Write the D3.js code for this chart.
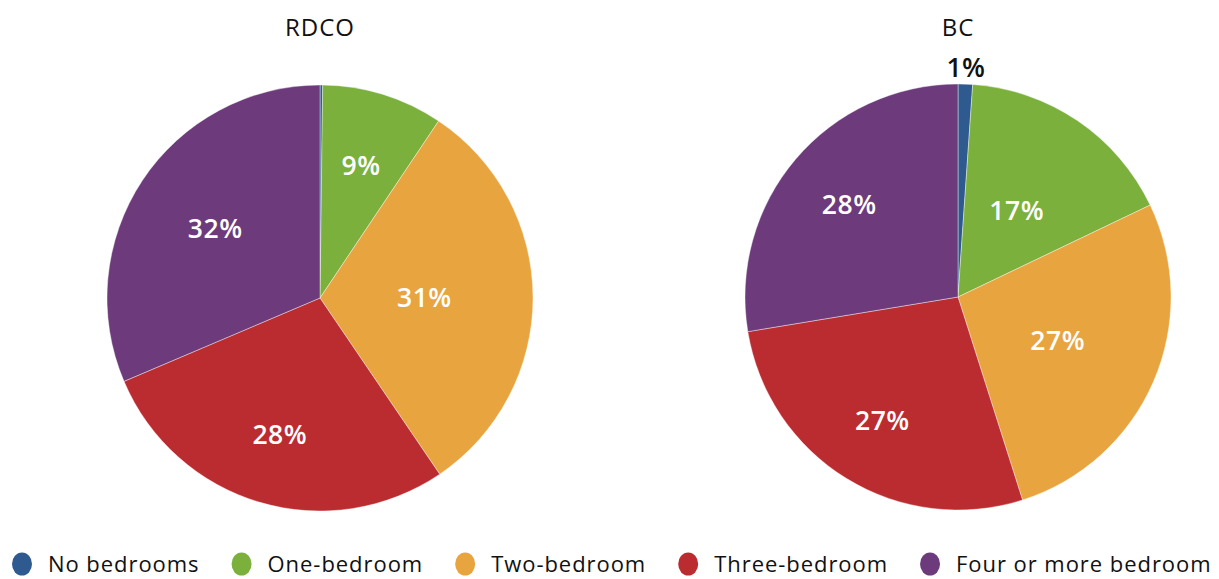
<!DOCTYPE html>
<html><head><meta charset="utf-8">
<script src="https://cdn.jsdelivr.net/npm/d3@7"></script>
<style>
html,body{margin:0;padding:0;background:#fff;}
svg{display:block;font-family:"Open Sans",sans-serif;}
</style></head>
<body><svg id="c" width="1219" height="579"></svg>
<script>
const categories = ["No bedrooms","One-bedroom","Two-bedroom","Three-bedroom","Four or more bedroom"];
const colors = ["#2E5A8F","#7BB03C","#E8A43E","#BB2C31","#6D3B7B"];
const regions = ["RDCO","BC"];
const rdcoValues = [0.2, 9.2, 31.1, 28.1, 31.4];
const bcValues = [1.1, 16.8, 27.2, 27.3, 27.6];
const rdcoLabels = ["", "9%", "31%", "28%", "32%"];
const bcLabels = ["1%", "17%", "27%", "27%", "28%"];

const svg = d3.select("#c");
const pies = [
  {name: regions[0], values: rdcoValues, labels: rdcoLabels, cx: 320, cy: 298, labelR: [0, 0.65, 0.49, 0.67, 0.59], outside:[false,false,false,false,false]},
  {name: regions[1], values: bcValues, labels: bcLabels, cx: 958, cy: 297, labelR: [1.08, 0.49, 0.51, 0.68, 0.67], outside:[true,false,false,false,false]}
];
const R = 213;
const pie = d3.pie().sort(null).value(d => d);
const arc = d3.arc().innerRadius(0).outerRadius(R);

pies.forEach(p => {
  const g = svg.append("g").attr("transform", `translate(${p.cx},${p.cy})`);
  const arcs = pie(p.values);
  g.selectAll("path").data(arcs).join("path")
    .attr("d", arc)
    .attr("fill", (d,i) => colors[i])
    .attr("stroke", "#fff").attr("stroke-width", 0.4);
  g.selectAll("text.lbl").data(arcs).join("text")
    .attr("class","lbl")
    .attr("transform", (d,i) => {
      const a = (d.startAngle + d.endAngle)/2;
      const r = R * p.labelR[i];
      return `translate(${Math.sin(a)*r},${-Math.cos(a)*r})`;
    })
    .attr("text-anchor","middle").attr("dy","0.36em")
    .attr("fill", (d,i) => p.outside[i] ? "#111" : "#fff")
    .attr("font-size", 26.5).attr("font-weight", 600).attr("letter-spacing", 0.5)
    .text((d,i) => p.labels[i]);
  svg.append("text").attr("x", p.cx).attr("y", 36)
    .attr("text-anchor","middle").attr("font-size", 24).attr("letter-spacing", 1).attr("fill","#111")
    .text(p.name);
});

// legend
const lg = svg.append("g").attr("transform","translate(0,564)");
let x = 22;
categories.forEach((c,i) => {
  lg.append("ellipse").attr("cx", x).attr("cy", 0).attr("rx", 10).attr("ry", 11.5).attr("fill", colors[i]);
  const t = lg.append("text").attr("x", x + 26).attr("y", 0).attr("dy","0.36em")
    .attr("font-size", 22).attr("letter-spacing", 0.95).attr("fill","#111").text(c);
  const w = t.node().getComputedTextLength();
  x = x + 26 + w + 42;
});
</script></body></html>
